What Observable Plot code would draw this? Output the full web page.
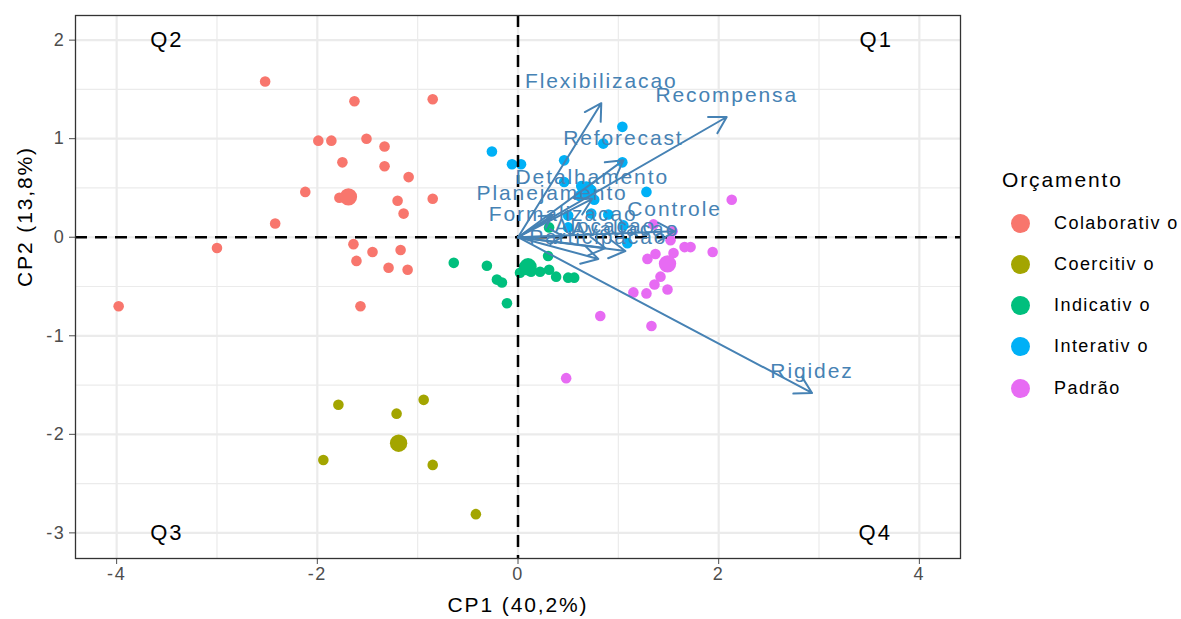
<!DOCTYPE html>
<html>
<head>
<meta charset="utf-8">
<script src="https://cdn.jsdelivr.net/npm/d3@7"></script>
<script src="https://cdn.jsdelivr.net/npm/@observablehq/plot@0.6"></script>
<style>
  body { margin: 0; background: #fff; font-family: "Liberation Sans", Arial, Helvetica, sans-serif; }
  #wrap { position: relative; width: 1181px; height: 619px; overflow: hidden; }
  #wrap svg text { letter-spacing: 0.09em; }
  #legend { position: absolute; left: 0; top: 0; width: 1181px; height: 619px; pointer-events: none; }
  #legend .title { position: absolute; left: 1002px; top: 166px; font-size: 21px; line-height: 28px; color: #000; letter-spacing: 0.09em; white-space: nowrap; }
  #legend .item { position: absolute; left: 1011px; height: 22px; display: flex; align-items: center; white-space: nowrap; width: 200px; }
  #legend .key { width: 19px; height: 19px; border-radius: 50%; margin-right: 24px; flex: none; }
  #legend .lab { font-size: 18px; color: #000; letter-spacing: 0.08em; white-space: nowrap; }
</style>
</head>
<body>
<div id="wrap"><div id="legend"></div></div>
<script>
// ---- Data ----
const groups = ["Colaborativ o", "Coercitiv o", "Indicativ o", "Interativ o", "Padrão"];
const groupColors = ["#F8766D", "#A3A500", "#00BF7D", "#00B0F6", "#E76BF3"];

const colabX = [-2.52, -1.63, -0.85, -1.99, -1.86, -1.51, -1.33, -1.75, -1.33, -1.09, -2.12, -1.78, -1.20, -0.85, -1.14, -2.42, -3.00, -1.64, -1.45, -1.17, -1.61, -1.29, -1.10, -1.57, -3.98];
const colabY = [1.58, 1.38, 1.40, 0.98, 0.98, 1.00, 0.92, 0.76, 0.72, 0.61, 0.46, 0.40, 0.37, 0.39, 0.24, 0.14, -0.11, -0.07, -0.15, -0.13, -0.24, -0.31, -0.33, -0.70, -0.70];

const coerX = [-1.79, -1.21, -0.94, -1.94, -0.85, -0.42];
const coerY = [-1.70, -1.79, -1.65, -2.26, -2.31, -2.81];

const indicX = [-0.64, -0.31, -0.21, -0.16, -0.11, 0.02, 0.13, 0.22, 0.31, 0.30, 0.38, 0.50, 0.56, 0.31, 0.06];
const indicY = [-0.26, -0.29, -0.43, -0.46, -0.67, -0.36, -0.35, -0.35, -0.33, -0.19, -0.40, -0.41, -0.41, 0.10, -0.30];

const interX = [-0.26, -0.06, 0.03, 0.46, 0.85, 1.04, 1.04, 1.28, 0.46, 0.63, 0.73, 0.76, 0.73, 0.50, 0.90, 1.05, 1.09, 0.61, 0.50];
const interY = [0.87, 0.74, 0.74, 0.78, 0.95, 1.12, 0.76, 0.46, 0.56, 0.52, 0.48, 0.38, 0.24, 0.22, 0.23, 0.12, -0.06, 0.42, 0.10];

const padX = [2.13, 1.35, 1.54, 1.52, 1.66, 1.72, 1.94, 1.55, 1.37, 1.29, 1.42, 1.36, 1.49, 1.15, 1.28, 0.82, 1.33, 0.48];
const padY = [0.38, 0.13, 0.06, -0.03, -0.10, -0.10, -0.15, -0.16, -0.17, -0.22, -0.40, -0.48, -0.53, -0.56, -0.57, -0.80, -0.90, -1.43];

const centroidX = [-1.69, -1.19, 0.10, 0.68, 1.49];
const centroidY = [0.41, -2.09, -0.30, 0.48, -0.27];

const varNames = ["Flexibilizacao", "Recompensa", "Reforecast", "Detalhamento", "Planejamento", "Formalizacao", "Controle", "Alocacao", "Avaliacao", "Participacao", "Rigidez"];
const varX = [0.83, 2.08, 1.05, 0.74, 0.34, 0.45, 1.56, 0.87, 1.07, 0.80, 2.93];
const varY = [1.36, 1.22, 0.78, 0.39, 0.22, 0.01, 0.06, -0.11, -0.14, -0.22, -1.58];

const quadLabels = ["Q1", "Q2", "Q3", "Q4"];
const quadX = [3.57, -3.50, -3.50, 3.56];
const quadY = [2.0, 2.0, -3.0, -3.0];

const xTicks = [-4, -2, 0, 2, 4];
const yTicks = [-3, -2, -1, 0, 1, 2];
const xMinor = [-3, -1, 1, 3];
const yMinor = [-2.5, -1.5, -0.5, 0.5, 1.5];

const xTitle = "CP1 (40,2%)";
const yTitle = "CP2 (13,8%)";

// ---- Tables ----
const seriesX = [colabX, coerX, indicX, interX, padX];
const seriesY = [colabY, coerY, indicY, interY, padY];
const points = groups.flatMap((g, i) => seriesX[i].map((x, j) => ({g, x, y: seriesY[i][j]})));
const centroids = groups.map((g, i) => ({g, x: centroidX[i], y: centroidY[i]}));
const vars = varNames.map((name, i) => ({name, x: varX[i], y: varY[i]}));
const quads = quadLabels.map((t, i) => ({t, x: quadX[i], y: quadY[i]}));

const arrowColor = "#4682B4";
const gridColor = "#EBEBEB";

const chart = Plot.plot({
  width: 1181,
  height: 619,
  marginLeft: 75,
  marginRight: 221,
  marginTop: 15,
  marginBottom: 61,
  style: {fontFamily: "'Liberation Sans', Arial, Helvetica, sans-serif", fontSize: "18px", background: "#fff", overflow: "visible"},
  x: {domain: [-4.41, 4.41]},
  y: {domain: [-3.26, 2.25]},
  color: {domain: groups, range: groupColors},
  marks: [
    Plot.gridX(xMinor, {stroke: gridColor, strokeOpacity: 1, strokeWidth: 1.2}),
    Plot.gridY(yMinor, {stroke: gridColor, strokeOpacity: 1, strokeWidth: 1.2}),
    Plot.gridX(xTicks, {stroke: gridColor, strokeOpacity: 1, strokeWidth: 2.2}),
    Plot.gridY(yTicks, {stroke: gridColor, strokeOpacity: 1, strokeWidth: 2.2}),
    Plot.axisX(xTicks, {tickSize: 6, tickPadding: 3, fontSize: 18, color: "#4D4D4D", label: null, tickFormat: d => String(d)}),
    Plot.axisY(yTicks, {tickSize: 6, tickPadding: 4, fontSize: 18, color: "#4D4D4D", label: null, tickFormat: d => String(d)}),
    Plot.dot(points, {x: "x", y: "y", fill: "g", r: 5.3}),
    Plot.dot(centroids, {x: "x", y: "y", fill: "g", r: 8.7}),
    Plot.ruleX([0], {stroke: "#000", strokeWidth: 2.5, strokeDasharray: "12,8"}),
    Plot.ruleY([0], {stroke: "#000", strokeWidth: 2.5, strokeDasharray: "12,8"}),
    Plot.arrow(vars, {x1: d => 0, y1: d => 0, x2: "x", y2: "y", stroke: arrowColor, strokeWidth: 2, headLength: 14, headAngle: 60}),
    Plot.text(vars, {x: "x", y: "y", text: "name", dy: -22, fill: arrowColor, fontSize: 21}),
    Plot.text(quads, {x: "x", y: "y", text: "t", fill: "#000", fontSize: 22}),
    Plot.text([xTitle], {frameAnchor: "bottom", lineAnchor: "middle", dy: 47, fill: "#000", fontSize: 21}),
    Plot.text([yTitle], {frameAnchor: "left", lineAnchor: "middle", dx: -50, rotate: -90, fill: "#000", fontSize: 21}),
    Plot.frame({stroke: "#333333", strokeWidth: 1.3})
  ]
});

const wrap = document.getElementById("wrap");
wrap.insertBefore(chart, wrap.firstChild);
chart.style.position = "absolute";
chart.style.left = "0px";
chart.style.top = "0px";

// ---- Legend ----
const legend = d3.select("#legend");
legend.append("div").attr("class", "title").text("Orçamento");
groups.forEach((g, i) => {
  const item = legend.append("div").attr("class", "item").style("top", (212 + i * 41.3) + "px");
  item.append("div").attr("class", "key").style("background", groupColors[i]);
  item.append("span").attr("class", "lab").text(g);
});
</script>
</body>
</html>
